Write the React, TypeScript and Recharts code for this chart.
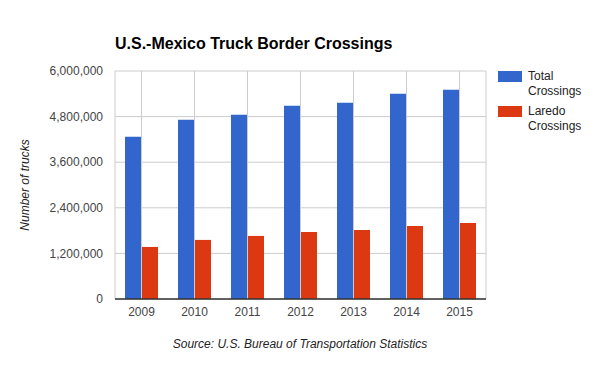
import { BarChart, Bar, XAxis, YAxis, CartesianGrid } from 'recharts';

const years = ['2009', '2010', '2011', '2012', '2013', '2014', '2015'];
const totalCrossings = [4270000, 4717000, 4849000, 5086000, 5165000, 5403000, 5508000];
const laredoCrossings = [1370000, 1555000, 1660000, 1766000, 1818000, 1924000, 2003000];
const yTicks = [0, 1200000, 2400000, 3600000, 4800000, 6000000];

const chartData = years.map((year, i) => ({
  year,
  total: totalCrossings[i],
  laredo: laredoCrossings[i],
}));

const font = '"Liberation Sans", Arial, sans-serif';

const legendItems = [
  { color: '#3366cc', lines: ['Total', 'Crossings'] },
  { color: '#dc3912', lines: ['Laredo', 'Crossings'] },
];

export default function App() {
  return (
    <div style={{ position: 'absolute', left: 0, top: 0, width: 600, height: 371, background: '#fff', fontFamily: font }}>
      <div style={{ position: 'absolute', left: 115, top: 34, fontSize: 16, fontWeight: 'bold', color: '#000', lineHeight: '20px' }}>
        U.S.-Mexico Truck Border Crossings
      </div>
      <BarChart
        width={600}
        height={371}
        data={chartData}
        margin={{ top: 71, right: 114, bottom: 42, left: 0 }}
        barSize={16}
        barGap={1}
      >
        <CartesianGrid stroke="#cccccc" />
        <XAxis
          dataKey="year"
          axisLine={{ stroke: '#333333', strokeWidth: 1.5 }}
          tickLine={false}
          tick={{ fill: '#444444', fontSize: 12, fontFamily: font }}
        />
        <YAxis
          width={115}
          domain={[0, 6000000]}
          ticks={yTicks}
          axisLine={false}
          tickLine={false}
          tickMargin={6}
          tick={{ fill: '#444444', fontSize: 12, fontFamily: font }}
          tickFormatter={(v: number) => v.toLocaleString('en-US')}
        />
        <Bar dataKey="total" fill="#3366cc" isAnimationActive={false} />
        <Bar dataKey="laredo" fill="#dc3912" isAnimationActive={false} />
      </BarChart>
      <div
        style={{
          position: 'absolute',
          left: 25,
          top: 185,
          transform: 'translate(-50%, -50%) rotate(-90deg)',
          whiteSpace: 'nowrap',
          fontSize: 12,
          fontStyle: 'italic',
          color: '#222',
        }}
      >
        Number of trucks
      </div>
      {legendItems.map((item, i) => (
        <div key={i} style={{ position: 'absolute', left: 498, top: 71 + i * 35, display: 'flex' }}>
          <div style={{ width: 24, height: 11, background: item.color, marginTop: 0 }} />
          <div style={{ marginLeft: 6, fontSize: 12, color: '#222', lineHeight: '15px', marginTop: -2 }}>
            {item.lines.map((l) => (
              <div key={l}>{l}</div>
            ))}
          </div>
        </div>
      ))}
      <div style={{ position: 'absolute', left: 0, width: 600, top: 337, textAlign: 'center', fontSize: 12, fontStyle: 'italic', color: '#222' }}>
        Source: U.S. Bureau of Transportation Statistics
      </div>
    </div>
  );
}
